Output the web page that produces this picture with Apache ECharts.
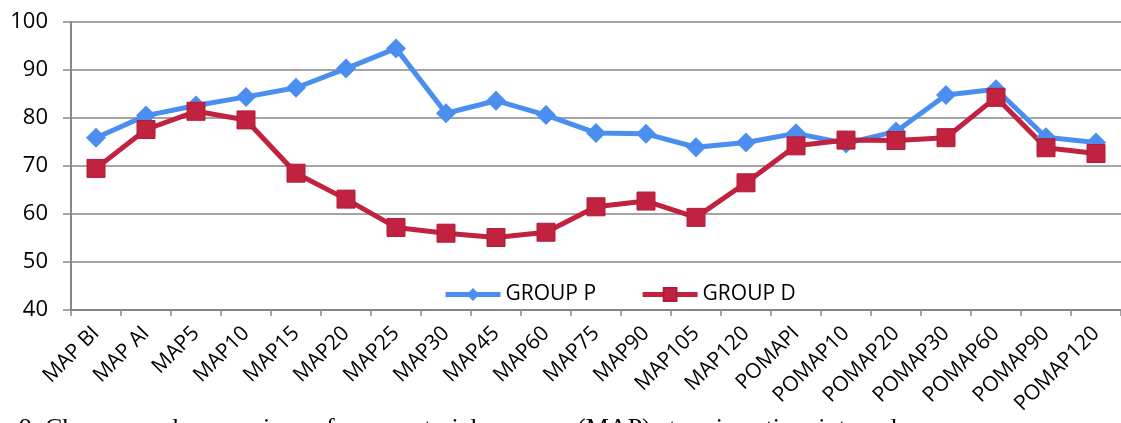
<!DOCTYPE html>
<html>
<head>
<meta charset="utf-8">
<script src="https://cdn.jsdelivr.net/npm/echarts@6/dist/echarts.min.js"></script>
<style>
  html, body { margin: 0; padding: 0; background: #fff; }
  #chart { width: 1121px; height: 423px; }
</style>
</head>
<body>
<div id="chart"></div>
<script>
// 横轴类别
const categories = ['MAP BI', 'MAP AI', 'MAP5', 'MAP10', 'MAP15', 'MAP20', 'MAP25', 'MAP30', 'MAP45', 'MAP60',
    'MAP75', 'MAP90', 'MAP105', 'MAP120', 'POMAPI', 'POMAP10', 'POMAP20', 'POMAP30', 'POMAP60', 'POMAP90', 'POMAP120']

// 两组数据
const groupP = [75.9, 80.5, 82.6, 84.4, 86.3, 90.3, 94.5, 81.0, 83.6, 80.6,
    76.9, 76.7, 73.9, 74.9, 76.8, 74.7, 77.2, 84.8, 86.0, 76.0, 74.9]
const groupD = [69.5, 77.6, 81.4, 79.6, 68.5, 63.1, 57.2, 56.0, 55.1, 56.2,
    61.5, 62.7, 59.3, 66.5, 74.2, 75.4, 75.3, 75.9, 84.3, 73.8, 72.6]

// 纵轴刻度
const yMin = 40
const yMax = 100
const yStep = 10

// 图下方被截断的图注
const caption = '9. Changes and comparison of mean arterial pressure (MAP) at various time intervals'

const gray = '#868686'
const blue = '#4A8FEF'
const red = '#C0223F'

const chart = echarts.init(document.getElementById('chart'))

chart.setOption({
    animation: false,
    textStyle: { fontFamily: 'Open Sans' },
    grid: { left: 71, right: -8, top: 22, bottom: 113, containLabel: false },
    legend: {
        left: 438,
        top: 279,
        itemWidth: 55,
        itemHeight: 16,
        itemGap: 44,
        lineStyle: { width: 5 },
        textStyle: { fontSize: 21, color: '#000', fontFamily: 'Open Sans' },
        data: ['GROUP P', 'GROUP D']
    },
    xAxis: {
        type: 'category',
        data: categories,
        boundaryGap: true,
        axisLine: { lineStyle: { color: gray, width: 2 } },
        axisTick: { show: true, length: 6, lineStyle: { color: gray, width: 1.5 } },
        axisLabel: { rotate: 45, fontSize: 21, color: '#000', margin: 20, interval: 0 }
    },
    yAxis: {
        type: 'value',
        min: yMin,
        max: yMax,
        interval: yStep,
        axisLine: { show: true, lineStyle: { color: gray, width: 2 } },
        axisTick: { show: true, length: 8, lineStyle: { color: gray, width: 1.5 } },
        splitLine: { lineStyle: { color: gray, width: 1.5 } },
        axisLabel: { fontSize: 22, color: '#000', margin: 23 }
    },
    series: [
        {
            name: 'GROUP P',
            type: 'line',
            data: groupP,
            symbol: 'diamond',
            symbolSize: 20,
            lineStyle: { color: blue, width: 5 },
            itemStyle: { color: blue }
        },
        {
            name: 'GROUP D',
            type: 'line',
            data: groupD,
            symbol: 'rect',
            symbolSize: 18,
            lineStyle: { color: red, width: 5 },
            itemStyle: { color: red, borderColor: '#B01C38', borderWidth: 1 }
        }
    ],
    graphic: [
        {
            type: 'text',
            left: 19,
            top: 416,
            style: { text: caption, fontSize: 26, fontFamily: 'Liberation Serif', fill: '#000' }
        }
    ]
})
</script>
</body>
</html>
